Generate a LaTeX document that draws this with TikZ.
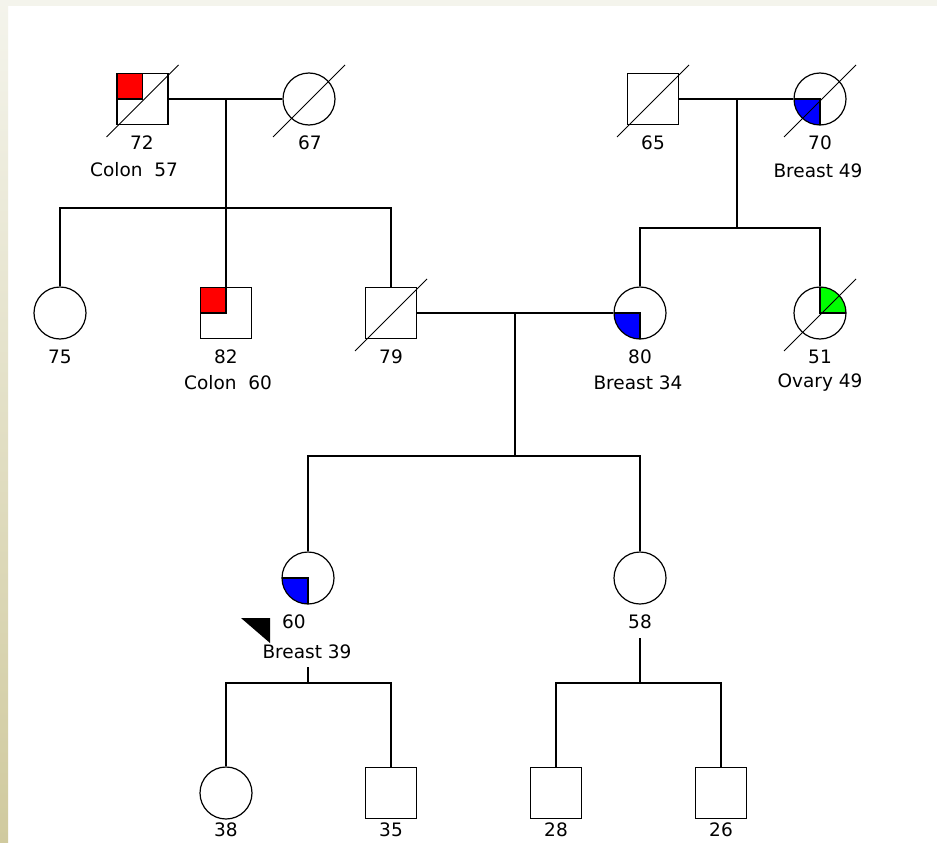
\documentclass[tikz,border=0pt]{standalone}
\usepackage{fontspec}
\setmainfont{DejaVu Sans}
\definecolor{paperbeige}{RGB}{208, 202, 158}
\definecolor{papercream}{RGB}{244, 244, 236}
\definecolor{colonred}{RGB}{255, 0, 0}
\definecolor{breastblue}{RGB}{0, 0, 255}
\definecolor{ovarygreen}{RGB}{0, 255, 0}
\usetikzlibrary{positioning, calc}

% slash through a deceased person
\newcommand{\deceased}[1]{\draw[slash] ([shift={(-36,38)}]#1.center) -- ([shift={(36,-34)}]#1.center);}

\begin{document}
\begin{tikzpicture}[x=1pt, y=-1pt,
    male/.style={draw, rectangle, line width=1.6pt, minimum size=51pt, inner sep=0pt},
    female/.style={draw, circle, line width=1.2pt, minimum size=52pt, inner sep=0pt},
    link/.style={line width=1.6pt},
    slash/.style={line width=0.9pt},
    age/.style={font=\fontsize{18.5}{21}\selectfont, inner sep=0pt},
    colon/.style={path picture={\filldraw[fill=colonred, line width=1.6pt] (path picture bounding box.north west) rectangle (path picture bounding box.center);}},
    breast/.style={path picture={\filldraw[fill=breastblue, line width=1.2pt] (path picture bounding box.center) rectangle (path picture bounding box.south west);}},
    ovary/.style={path picture={\filldraw[fill=ovarygreen, line width=1.2pt] (path picture bounding box.center) rectangle (path picture bounding box.north east);}}
]
    % Page
    \useasboundingbox (0,0) rectangle (937,843);
    \fill[white] (0,0) rectangle (937,843);
    \fill[papercream] (0,0) rectangle (937,6);
    \shade[top color=papercream, bottom color=paperbeige] (0,0) rectangle (8,843);

    % Generation I
    \node[male, colon] (m72) at (142.5,99) {};
    \node[female] (f67) at (309,99) {};
    \node[male] (m65) at (653,99) {};
    \node[female, breast] (f70) at (820,99) {};
    \deceased{m72}
    \deceased{f67}
    \deceased{m65}
    \deceased{f70}
    \node[age] (a72) at (142,143) {72};
    \node[age] (c72) at (134,170) {Colon\ \ 57};
    \node[age] (a67) at (310,143) {67};
    \node[age] (a65) at (653,143) {65};
    \node[age] (a70) at (820,143) {70};
    \node[age] (c70) at (818,171) {Breast 49};

    % Generation II
    \node[female] (f75) at (60,313) {};
    \node[male, colon] (m82) at (226,313) {};
    \node[male] (m79) at (391,313) {};
    \node[female, breast] (f80) at (640,313) {};
    \node[female, ovary] (f51) at (820,313) {};
    \deceased{m79}
    \deceased{f51}
    \node[age] (a75) at (60,357) {75};
    \node[age] (a82) at (226,357) {82};
    \node[age] (c82) at (228,383) {Colon\ \ 60};
    \node[age] (a79) at (391,357) {79};
    \node[age] (a80) at (640,357) {80};
    \node[age] (c80) at (638,383) {Breast 34};
    \node[age] (a51) at (820,357) {51};
    \node[age] (c51) at (820,383) {Ovary 49};

    % Generation III
    \node[female, breast] (f60) at (308,578) {};
    \node[female] (f58) at (640,578) {};
    \node[age] (a60) at (294,622) {60};
    \node[age] (c60) at (307,652) {Breast 39};
    \node[age] (a58) at (640,622) {58};
    % proband
    \fill (241,618) -- (270,618) -- (270,643) -- cycle;

    % Generation IV
    \node[female] (f38) at (226,793) {};
    \node[male] (m35) at (391,793) {};
    \node[male] (m28) at (556,793) {};
    \node[male] (m26) at (721,793) {};
    \node[age] (a38) at (226,830) {38};
    \node[age] (a35) at (391,830) {35};
    \node[age] (a28) at (556,830) {28};
    \node[age] (a26) at (721,830) {26};

    % Junctions
    \coordinate (pg) at (226,99);
    \coordinate (sib1) at (226,208);
    \coordinate (mg) at (737,99);
    \coordinate (sib2) at (737,228);
    \coordinate (pc) at (515,313);
    \coordinate (sib3) at (515,456);
    \coordinate (d60) at (308,667);
    \coordinate (sib4) at (308,683);
    \coordinate (d58) at (640,638);
    \coordinate (sib5) at (640,683);

    % Lines of descent
    \draw[link] (m72) -- (f67);
    \draw[link] (pg) -- (sib1);
    \draw[link] (f75) |- (sib1) -| (m79);
    \draw[link] (sib1) -- (m82);

    \draw[link] (m65) -- (f70);
    \draw[link] (mg) -- (sib2);
    \draw[link] (f80) |- (sib2) -| (f51);

    \draw[link] (m79) -- (f80);
    \draw[link] (pc) -- (sib3);
    \draw[link] (f60) |- (sib3) -| (f58);

    \draw[link] (d60) -- (sib4);
    \draw[link] (f38) |- (sib4) -| (m35);
    \draw[link] (d58) -- (sib5);
    \draw[link] (m28) |- (sib5) -| (m26);
\end{tikzpicture}
\end{document}
